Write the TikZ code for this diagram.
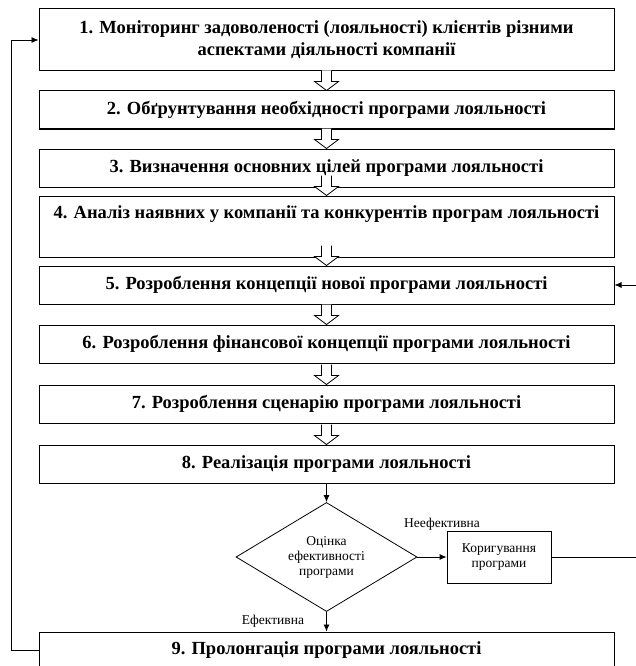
\documentclass[tikz,border=0pt]{standalone}
\usepackage{fontspec}
\setmainfont{Liberation Serif}
\usetikzlibrary{shapes.geometric,arrows.meta,calc}
\newcommand\blockarrow[2]{%
  \draw[hollow] ($(#2.north)+(-5,-20)$) -- ($(#2.north)+(-5,-9)$) -- ($(#2.north)+(-12,-9)$) -- (#2.north)
     -- ($(#2.north)+(12,-9)$) -- ($(#2.north)+(5,-9)$) -- ($(#2.north)+(5,-20)$);}
\begin{document}
\begin{tikzpicture}[x=1pt,y=-1pt,
  stage/.style={draw, line width=1pt, minimum width=575pt, inner sep=0pt, align=center,
     font=\fontsize{18.5}{22}\selectfont\bfseries},
  small/.style={font=\fontsize{13.5}{15}\selectfont, align=center, inner sep=0pt},
  hollow/.style={draw, fill=white, line width=0.8pt, line join=miter},
  conn/.style={draw, line width=0.8pt},
  tip/.style={-{Latex[length=7pt,width=6pt]}}]
\useasboundingbox (0,0) rectangle (635,666);
\node[stage, minimum height=62pt] (b1) at (326.5,40) {1. Моніторинг задоволеності (лояльності) клієнтів різними\\аспектами діяльності компанії};
\node[stage, minimum height=38pt] (b2) at (326.5,110) {2. Обґрунтування необхідності програми лояльності};
\node[stage, minimum height=38pt] (b3) at (326.5,168) {3. Визначення основних цілей програми лояльності};
\node[stage, minimum height=61pt] (b4) at (326.5,226.5) {4. Аналіз наявних у компанії та конкурентів програм лояльності\\\strut};
\node[stage, minimum height=38pt] (b5) at (326.5,285) {5. Розроблення концепції нової програми лояльності};
\node[stage, minimum height=38pt] (b6) at (326.5,344) {6. Розроблення фінансової концепції програми лояльності};
\node[stage, minimum height=38pt] (b7) at (326.5,404) {7. Розроблення сценарію програми лояльності};
\node[stage, minimum height=38pt] (b8) at (326.5,464) {8. Реалізація програми лояльності};
\node[draw, line width=0.8pt, shape=diamond, aspect=1.66, minimum width=181pt, minimum height=109pt, inner sep=0pt, small] (dia) at (326.5,557) {Оцінка\\ефективності\\програми};
\node[draw, line width=0.8pt, minimum width=104pt, minimum height=52pt, small] (kor) at (499,557) {Коригування\\програми};
\node[stage, minimum height=36pt] (b9) at (326.5,650) {9. Пролонгація програми лояльності};
\blockarrow{b1}{b2}
\blockarrow{b2}{b3}
\blockarrow{b3}{b4}
\blockarrow{b4}{b5}
\blockarrow{b5}{b6}
\blockarrow{b6}{b7}
\blockarrow{b7}{b8}
\draw[conn,tip] (b8.south) -- (dia.north);
\draw[conn,tip] (dia.east) -- (kor.west);
\draw[conn,tip] (dia.south) -- (b9.north);
\coordinate (rc) at (636,557);
\coordinate (lc) at (11,650);
\draw[conn,tip] (kor.east) -- (rc) |- (b5.east);
\draw[conn,tip] (b9.west) -- (lc) |- (b1.west);
\node[small] (lneg) at (442,524) {Неефективна};
\node[small] (lpos) at (273,621) {Ефективна};
\end{tikzpicture}
\end{document}
